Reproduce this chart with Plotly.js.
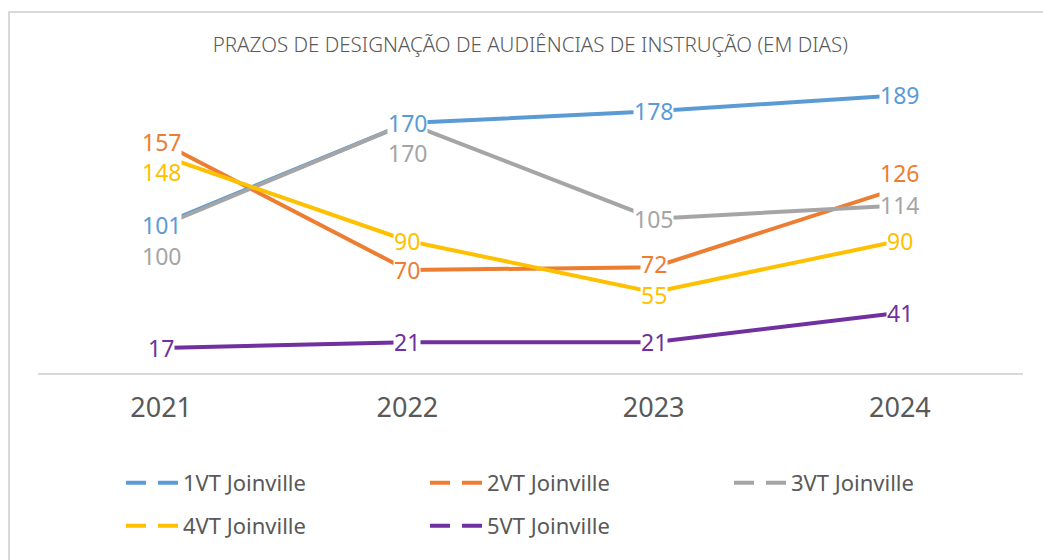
<!DOCTYPE html>
<html>
<head>
<meta charset="utf-8">
<script src="https://cdn.plot.ly/plotly-3.0.1.min.js"></script>
<style>
  html, body { margin: 0; padding: 0; overflow: hidden; background: #fff; }
  #chart { width: 1043px; height: 560px; position: absolute; left: 0; top: 0; }
  #frame { position: absolute; left: 8px; top: 11px; width: 3000px; height: 3000px;
           border: 2px solid #d9d9d9; pointer-events: none; }
</style>
</head>
<body>
<div id="chart"></div>
<div id="frame"></div>
<script>
// ---- data ----
const years = ['2021', '2022', '2023', '2024'];
const seriesNames = ['1VT Joinville', '2VT Joinville', '3VT Joinville', '4VT Joinville', '5VT Joinville'];
const vt1 = [101, 170, 178, 189];
const vt2 = [157, 70, 72, 126];
const vt3 = [100, 170, 105, 114];
const vt4 = [148, 90, 55, 90];
const vt5 = [17, 21, 21, 41];
const titleText = 'PRAZOS DE DESIGNAÇÃO DE AUDIÊNCIAS DE INSTRUÇÃO (EM DIAS)';

// ---- styling ----
const colors = ['#5b9bd5', '#ed7d31', '#a5a5a5', '#ffc000', '#7030a0'];
const allSeries = [vt1, vt2, vt3, vt4, vt5];
// vertical label shift (px) per series / point (0 = centred on point)
const labelShift = [
  [0, 0, 0, 0],
  [0, 0, 3, 15],
  [-30, -30, 0, 0],
  [-17, 0, -3, 0],
  [0, 0, 0, 0]
];
const legendOf = ['legend', 'legend', 'legend', 'legend2', 'legend2'];
const FONT = '"Noto Sans", "Open Sans", sans-serif';

const traces = [];
allSeries.forEach((vals, s) => {
  traces.push({
    type: 'scatter', mode: 'lines', x: years, y: vals, name: seriesNames[s],
    line: { color: colors[s], width: 4 }, showlegend: false, hoverinfo: 'skip'
  });
});
// legend entries (dashed symbols)
allSeries.forEach((vals, s) => {
  traces.push({
    type: 'scatter', mode: 'lines', x: [null], y: [null], name: seriesNames[s],
    line: { color: colors[s], width: 4, dash: '20px,12px' },
    showlegend: true, legend: legendOf[s], hoverinfo: 'skip'
  });
});

const annotations = [];
allSeries.forEach((vals, s) => {
  vals.forEach((v, i) => {
    annotations.push({
      x: i, y: v, xref: 'x', yref: 'y', text: String(v), showarrow: false,
      yshift: labelShift[s][i], bgcolor: '#ffffff', borderpad: 0,
      font: { family: FONT, size: 23, color: colors[s] }
    });
  });
});

const legendCommon = {
  orientation: 'h', xref: 'container', yref: 'container', x: 0.116, xanchor: 'left',
  yanchor: 'middle', itemwidth: 52, entrywidth: 237, entrywidthmode: 'pixels',
  font: { family: FONT, size: 22, color: '#595959' }, bgcolor: 'rgba(0,0,0,0)',
  itemclick: false, itemdoubleclick: false
};

const layout = {
  width: 1043, height: 560,
  margin: { l: 38, r: 20, t: 79, b: 187 },
  paper_bgcolor: '#ffffff', plot_bgcolor: '#ffffff',
  title: {
    text: titleText, x: 0.5085, xanchor: 'center', y: 1 - 45 / 560, yanchor: 'middle',
    font: { family: FONT, size: 20.5, color: '#595959', weight: 300 }
  },
  xaxis: {
    type: 'category', range: [-0.5, 3.5], showline: true, linecolor: '#d9d9d9', linewidth: 2,
    showgrid: false, zeroline: false, ticks: '', ticklabelstandoff: 10,
    tickfont: { family: FONT, size: 27, color: '#595959' }, fixedrange: true
  },
  yaxis: { range: [0, 200], visible: false, showgrid: false, zeroline: false, fixedrange: true },
  legend: Object.assign({}, legendCommon, { y: 1 - 483 / 560 }),
  legend2: Object.assign({}, legendCommon, { y: 1 - 526 / 560 }),
  annotations: annotations,
  showlegend: true
};

Plotly.newPlot('chart', traces, layout, { displayModeBar: false, staticPlot: true });
</script>
</body>
</html>
